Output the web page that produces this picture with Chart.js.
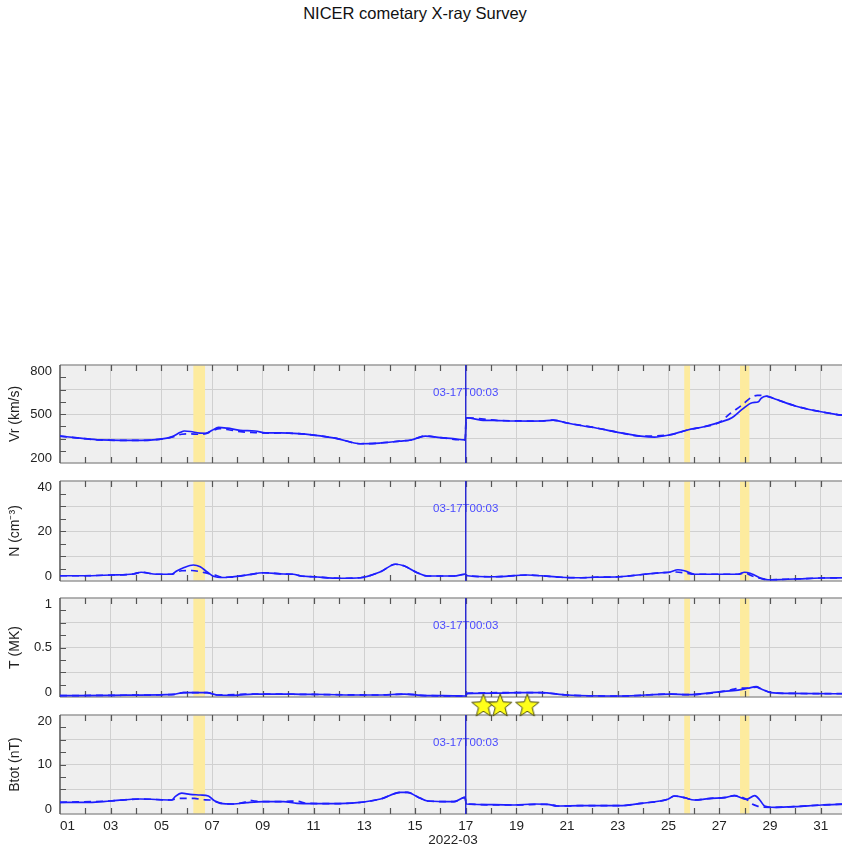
<!DOCTYPE html>
<html lang="en">
<head>
<meta charset="utf-8">
<title>NICER cometary X-ray Survey</title>
<script src="https://cdn.jsdelivr.net/npm/chart.js@4.4.1/dist/chart.umd.min.js"></script>
<style>
    html, body { margin: 0; padding: 0; background: #fff; overflow: hidden; }
    #pagina { position: relative; width: 842px; height: 852px; overflow: hidden;
              font-family: 'Liberation Sans', Arial, Helvetica, sans-serif; }
    #titulo { position: absolute; left: 0; top: 4px; width: 830px; text-align: center;
              font-size: 16.5px; color: #111; }
    canvas { position: absolute; left: 0; }
</style>
</head>
<body>
<div id="pagina">
    <div id="titulo">NICER cometary X-ray Survey</div>
    <canvas id="vrChart" width="848" height="116" style="top:353px"></canvas>
    <canvas id="nChart" width="848" height="118" style="top:469px"></canvas>
    <canvas id="tChart" width="848" height="117" style="top:586px"></canvas>
    <canvas id="bChart" width="848" height="162" style="top:690px"></canvas>
</div>
<script>
// ---- Eixo do tempo (dias de março de 2022) ----
const xTicks = [1, 3, 5, 7, 9, 11, 13, 15, 17, 19, 21, 23, 25, 27, 29, 31, 32];
const xRotulos = ['01', '03', '05', '07', '09', '11', '13', '15', '17', '19', '21', '23', '25', '27', '29', '31', ''];
const xMarcas = [2, 3, 4, 5, 6, 7, 8, 9, 10, 11, 12, 13, 14, 15, 16, 17, 18, 19, 20, 21, 22, 23, 24, 25, 26, 27, 28, 29, 30, 31];

// faixas amarelas (observações)
const faixaInicio = [6.26, 25.62, 27.82];
const faixaFim = [6.72, 25.85, 28.19];

// evento marcado
const diaEvento = 17 + 3 / 1440;
const rotuloEvento = '03-17T00:03';

// estrelas
const estrelaDias = [17.70, 18.36, 19.43];
const estrelaY = [21.8, 21.8, 21.8];

// ---- Vr (km/s) ----
const vrTicks = [200, 350, 500, 650, 800];
const vrRotulos = ['200', '', '500', '', '800'];
const vrMarcas = [275, 350, 425, 500, 575, 650, 725];
const vrDias = [1.0, 1.8, 2.6, 3.4, 4.2, 4.9, 5.4, 5.75, 5.9, 6.15, 6.5, 6.75, 7.0, 7.25, 7.6, 8.1, 8.7, 9.1, 9.7, 10.4, 11.0, 11.9, 12.85, 13.6, 14.4, 14.85, 15.4, 16.0, 16.5, 16.98, 17.02, 17.6, 18.3, 18.9, 19.6, 20.0, 20.45, 21.0, 21.6, 22.1, 23.0, 23.9, 24.45, 25.0, 25.75, 26.4, 27.1, 27.5, 27.9, 28.3, 28.55, 28.65, 28.85, 29.2, 30.0, 30.8, 31.6, 32.0];
const vrSolido = [365, 352, 341, 338, 338, 345, 360, 388, 396, 393, 383, 382, 400, 418, 413, 400, 396, 384, 384, 380, 371, 351, 318, 322, 334, 341, 365, 355, 349, 341, 477, 463, 460, 457, 456, 457, 463, 445, 428, 416, 388, 365, 359, 371, 402, 422, 453, 477, 528, 569, 575, 596, 610, 592, 549, 520, 498, 490];
const vrTracoDias = [1.0, 2.6, 4.2, 4.9, 5.4, 5.8, 6.1, 6.5, 6.75, 7.0, 7.3, 7.7, 8.2, 8.7, 9.2, 9.7, 10.4, 11.0, 11.9, 12.85, 13.6, 14.4, 14.85, 15.4, 16.0, 16.98, 17.02, 18.3, 20.0, 20.45, 21.0, 22.1, 23.0, 23.9, 25.0, 25.75, 26.4, 27.0, 27.45, 27.9, 28.25, 28.5, 28.8, 29.2, 30.0, 31.6, 32.0];
const vrTraco = [365, 341, 338, 345, 358, 376, 378, 376, 380, 396, 410, 402, 390, 386, 383, 384, 380, 371, 351, 318, 322, 334, 341, 365, 355, 341, 477, 460, 457, 463, 445, 416, 388, 365, 371, 402, 422, 448, 505, 555, 600, 614, 612, 592, 549, 498, 490];

// ---- N (cm^-3) ----
const nTicks = [0, 10, 20, 30, 40];
const nRotulos = ['0', '', '20', '', '40'];
const nMarcas = [5, 10, 15, 20, 25, 30, 35];
const nDias = [1.0, 1.9, 3.0, 3.9, 4.2, 4.8, 5.4, 5.6, 5.87, 6.26, 6.53, 6.79, 7.05, 7.45, 7.6, 8.37, 9.03, 9.82, 10.2, 10.5, 11.0, 12.06, 12.85, 13.64, 14.23, 14.56, 15.09, 15.49, 16.54, 16.97, 17.07, 18.12, 19.44, 19.97, 20.76, 21.55, 22.07, 23.06, 24.05, 24.71, 25.04, 25.37, 25.63, 26.02, 26.68, 27.34, 27.74, 28.0, 28.26, 28.66, 28.92, 29.97, 31.0, 32.0];
const nSolido = [2.1, 2.1, 2.4, 2.8, 3.5, 2.7, 2.7, 4.0, 5.3, 6.4, 5.7, 3.7, 1.9, 1.4, 1.5, 2.4, 3.3, 2.8, 2.7, 2.0, 1.7, 1.1, 1.3, 3.7, 6.7, 6.1, 3.3, 2.0, 2.0, 2.7, 2.1, 1.7, 2.4, 2.1, 1.5, 1.3, 1.5, 1.7, 2.7, 3.3, 3.5, 4.5, 4.1, 2.7, 2.7, 2.7, 2.7, 3.5, 2.9, 1.1, 0.5, 0.8, 1.2, 1.3];
const nTracoDias = [1.0, 1.9, 3.0, 3.9, 4.2, 4.8, 5.4, 5.6, 5.8, 6.2, 6.5, 6.8, 7.1, 7.45, 7.6, 8.37, 9.03, 9.82, 10.2, 10.5, 11.0, 12.06, 12.85, 13.64, 14.23, 14.56, 15.09, 15.49, 16.54, 16.97, 17.07, 18.12, 19.44, 19.97, 20.76, 21.55, 22.07, 23.06, 24.05, 24.71, 25.04, 25.3, 25.7, 26.02, 26.68, 27.34, 27.74, 28.0, 28.3, 28.65, 28.92, 29.97, 31.0, 32.0];
const nTraco = [2.1, 2.1, 2.4, 2.8, 3.5, 2.7, 2.7, 3.6, 4.1, 4.2, 3.8, 3.1, 2.4, 1.5, 1.5, 2.4, 3.3, 2.8, 2.7, 2.0, 1.7, 1.1, 1.3, 3.7, 6.7, 6.1, 3.3, 2.0, 2.0, 2.7, 2.1, 1.7, 2.4, 2.1, 1.5, 1.3, 1.5, 1.7, 2.7, 3.3, 3.5, 3.6, 3.1, 2.7, 2.7, 2.7, 2.7, 3.2, 2.0, 1.0, 0.5, 0.8, 1.2, 1.3];

// ---- T (MK) ----
const tTicks = [0, 0.25, 0.5, 0.75, 1];
const tRotulos = ['0', '', '0.5', '', '1'];
const tMarcas = [0.125, 0.25, 0.375, 0.5, 0.625, 0.75, 0.875];
const tDias = [1.0, 3.0, 5.2, 5.5, 5.87, 6.8, 7.2, 7.85, 8.64, 9.82, 10.5, 11.5, 12.5, 13.6, 14.6, 15.23, 16.5, 16.98, 17.07, 18.2, 19.17, 19.96, 21.0, 23.1, 25.1, 25.76, 27.08, 27.74, 28.13, 28.46, 28.66, 29.05, 29.71, 31.6, 32.0];
const tSolido = [0.013, 0.017, 0.023, 0.027, 0.044, 0.044, 0.02, 0.017, 0.03, 0.03, 0.027, 0.025, 0.02, 0.02, 0.03, 0.017, 0.012, 0.01, 0.037, 0.04, 0.044, 0.044, 0.02, 0.01, 0.03, 0.023, 0.054, 0.07, 0.088, 0.104, 0.08, 0.044, 0.037, 0.033, 0.033];
const tTracoDias = [1.0, 3.0, 5.5, 5.87, 6.8, 7.2, 8.64, 10.5, 13.6, 14.6, 15.23, 16.98, 17.07, 19.17, 19.96, 21.0, 23.1, 25.1, 25.76, 27.08, 27.6, 27.8, 28.1, 28.46, 28.66, 29.05, 29.71, 32.0];
const tTraco = [0.013, 0.017, 0.027, 0.044, 0.044, 0.02, 0.03, 0.027, 0.02, 0.03, 0.017, 0.01, 0.037, 0.044, 0.044, 0.02, 0.01, 0.03, 0.023, 0.054, 0.08, 0.09, 0.09, 0.1, 0.08, 0.044, 0.037, 0.033];

// ---- Btot (nT) ----
const bTicks = [0, 5, 10, 15, 20];
const bRotulos = ['0', '', '10', '', '20'];
const bMarcas = [2.5, 5, 7.5, 10, 12.5, 15, 17.5];
const bDias = [1.0, 2.18, 2.97, 4.16, 5.41, 5.54, 5.8, 6.13, 6.53, 6.85, 7.05, 7.32, 7.84, 8.37, 9.03, 9.82, 10.35, 11.66, 12.72, 13.64, 14.43, 14.7, 15.09, 15.49, 16.54, 16.97, 17.03, 18.12, 18.91, 19.7, 20.23, 20.62, 21.55, 22.07, 23.06, 23.92, 24.97, 25.23, 25.63, 26.02, 26.68, 27.2, 27.6, 28.07, 28.4, 28.6, 28.79, 29.19, 29.98, 31.03, 32.0];
const bSolido = [2.36, 2.36, 2.63, 3.03, 2.83, 3.5, 4.2, 3.97, 3.84, 3.64, 2.83, 2.16, 2.02, 2.29, 2.49, 2.49, 2.16, 2.09, 2.29, 3.03, 4.38, 4.38, 3.5, 2.63, 2.49, 3.37, 2.02, 1.88, 1.82, 2.02, 1.96, 1.62, 1.68, 1.68, 1.68, 2.16, 2.97, 3.64, 3.3, 2.83, 3.17, 3.3, 3.7, 2.97, 3.7, 2.83, 1.62, 1.35, 1.48, 1.82, 2.0];
const bTracoDias = [1.0, 2.97, 4.16, 5.41, 5.6, 5.9, 6.3, 6.6, 6.9, 7.15, 7.4, 7.84, 8.3, 8.5, 8.7, 9.03, 9.82, 10.1, 10.4, 10.7, 11.66, 12.72, 13.64, 14.43, 14.7, 15.09, 15.49, 16.54, 16.97, 17.03, 18.91, 20.23, 20.62, 21.55, 23.06, 23.92, 24.97, 25.23, 25.63, 26.02, 26.68, 27.2, 27.6, 28.07, 28.3, 28.5, 28.7, 29.19, 29.98, 31.03, 32.0];
const bTraco = [2.36, 2.63, 3.03, 2.83, 3.1, 3.17, 3.17, 2.9, 2.83, 2.5, 2.16, 2.02, 2.4, 2.75, 2.6, 2.49, 2.49, 2.6, 2.55, 2.16, 2.09, 2.29, 3.03, 4.38, 4.38, 3.5, 2.63, 2.49, 3.37, 2.02, 1.82, 1.96, 1.62, 1.68, 1.68, 2.16, 2.97, 3.64, 3.3, 2.83, 3.17, 3.3, 3.7, 2.97, 2.0, 1.6, 1.38, 1.35, 1.48, 1.82, 2.0];

const FONTE = "'Liberation Sans', Arial, Helvetica, sans-serif";
const AZUL = '#1e1eff';

Chart.defaults.font.family = FONTE;
Chart.defaults.font.size = 13;
Chart.defaults.color = '#222';

function pontos(dias, valores) {
    return dias.map((d, i) => ({ x: d, y: valores[i] }));
}

// estrela amarela desenhada num canvas auxiliar (pointStyle)
function criarEstrela() {
    const c = document.createElement('canvas');
    c.width = 30;
    c.height = 30;
    const g = c.getContext('2d');
    const R = 12.2, r = 5.2;
    g.beginPath();
    for (let i = 0; i < 10; i++) {
        const ang = -Math.PI / 2 + i * Math.PI / 5;
        const raio = i % 2 === 0 ? R : r;
        const px = 15 + raio * Math.cos(ang);
        const py = 15 + raio * Math.sin(ang);
        if (i === 0) g.moveTo(px, py); else g.lineTo(px, py);
    }
    g.closePath();
    g.fillStyle = '#ffff1a';
    g.fill();
    g.strokeStyle = '#4a4a10';
    g.lineWidth = 1;
    g.stroke();
    return c;
}

// fundo, faixas, moldura, marcas internas, rótulos do eixo y e linha do evento
const painelPlugin = {
    id: 'painel',
    beforeDraw(chart) {
        const { ctx, chartArea: a } = chart;
        ctx.save();
        ctx.fillStyle = '#efefef';
        ctx.fillRect(a.left, a.top, a.right - a.left, a.bottom - a.top);
        ctx.restore();
    },
    beforeDatasetsDraw(chart, args, opts) {
        const { ctx, chartArea: a } = chart;
        const x = chart.scales.x, y = chart.scales.y;
        ctx.save();
        ctx.fillStyle = '#fdeb9e';
        faixaInicio.forEach((d, i) => {
            const x0 = x.getPixelForValue(d);
            const x1 = x.getPixelForValue(faixaFim[i]);
            ctx.fillRect(x0, a.top, x1 - x0, a.bottom - a.top);
        });

        ctx.lineWidth = 1.5;
        ctx.strokeStyle = '#9a9a9a';
        ctx.beginPath();
        ctx.moveTo(a.left, a.top); ctx.lineTo(a.right, a.top);
        ctx.moveTo(a.left, a.bottom); ctx.lineTo(a.right, a.bottom);
        ctx.stroke();
        ctx.strokeStyle = '#555';
        ctx.beginPath();
        ctx.moveTo(a.left, a.top); ctx.lineTo(a.left, a.bottom);
        ctx.stroke();

        ctx.lineWidth = 1.2;
        ctx.strokeStyle = '#555';
        ctx.beginPath();
        xMarcas.forEach(d => {
            const px = Math.round(x.getPixelForValue(d)) + 0.5;
            ctx.moveTo(px, a.top); ctx.lineTo(px, a.top + 6);
            ctx.moveTo(px, a.bottom); ctx.lineTo(px, a.bottom - 6);
        });
        (opts.marcas || []).forEach(v => {
            const py = Math.round(y.getPixelForValue(v)) + 0.5;
            ctx.moveTo(a.left, py); ctx.lineTo(a.left + 6, py);
        });
        ctx.stroke();

        // rótulos do eixo y: os das pontas ficam dentro da altura do painel
        ctx.fillStyle = '#222';
        ctx.font = '13px ' + FONTE;
        ctx.textAlign = 'right';
        ctx.textBaseline = 'middle';
        (opts.ticks || []).forEach((v, i) => {
            const txt = opts.rotulos[i];
            if (!txt) return;
            let py = y.getPixelForValue(v);
            py = Math.min(Math.max(py, a.top + 6), a.bottom - 5);
            ctx.fillText(txt, a.left - 8, py);
        });
        ctx.restore();
    },
    afterDatasetsDraw(chart) {
        const { ctx, chartArea: a } = chart;
        const px = chart.scales.x.getPixelForValue(diaEvento);
        ctx.save();
        ctx.fillStyle = '#4a4aff';
        ctx.font = '11.5px ' + FONTE;
        ctx.textAlign = 'center';
        ctx.textBaseline = 'middle';
        ctx.fillText(rotuloEvento, px, a.top + 28);
        ctx.strokeStyle = '#2a2ad2';
        ctx.lineWidth = 1.5;
        ctx.beginPath();
        ctx.moveTo(px, a.top);
        ctx.lineTo(px, a.bottom);
        ctx.stroke();
        ctx.restore();
    }
};

function serie(dias, valores, tracejada) {
    return {
        data: pontos(dias, valores),
        borderColor: AZUL,
        borderWidth: 1.7,
        borderDash: tracejada ? [7, 5] : [],
        pointRadius: 0,
        fill: false,
        cubicInterpolationMode: 'monotone'
    };
}

function criarPainel(id, cfg) {
    const el = document.getElementById(id);
    if (!el) {
        console.error('Canvas não encontrado:', id);
        return null;
    }
    const datasets = [
        serie(cfg.diasSolido, cfg.solido, false),
        serie(cfg.diasTraco, cfg.traco, true)
    ];
    if (cfg.extras) datasets.unshift(...cfg.extras);

    return new Chart(el, {
        type: 'line',
        data: { datasets },
        plugins: [painelPlugin],
        options: {
            responsive: false,
            animation: false,
            events: [],
            layout: {
                autoPadding: false,
                padding: { top: cfg.padTop, bottom: cfg.padBottom, left: 0, right: 2 }
            },
            plugins: {
                legend: { display: false },
                tooltip: { enabled: false },
                painel: { marcas: cfg.marcas, ticks: cfg.ticks, rotulos: cfg.rotulos }
            },
            scales: {
                x: {
                    type: 'linear',
                    min: 1,
                    max: 32,
                    afterBuildTicks: s => { s.ticks = xTicks.map(v => ({ value: v })); },
                    afterFit: s => {
                        s.height = cfg.eixoX ? 38 : 0;
                        s.paddingLeft = 0;
                        s.paddingRight = 0;
                    },
                    border: { display: false },
                    grid: {
                        drawTicks: false,
                        color: c => (c.index === 0 || c.index === xTicks.length - 1) ? 'rgba(0,0,0,0)' : '#d0d0d0'
                    },
                    ticks: {
                        display: !!cfg.eixoX,
                        autoSkip: false,
                        maxRotation: 0,
                        align: 'inner',
                        padding: 4,
                        font: { size: 13.5 },
                        color: '#222',
                        callback: (v, i) => xRotulos[i]
                    },
                    title: {
                        display: !!cfg.eixoX,
                        text: '2022-03',
                        font: { size: 13.5 },
                        color: '#222',
                        padding: { top: 0, bottom: 4 }
                    }
                },
                y: {
                    type: 'linear',
                    min: cfg.ticks[0],
                    max: cfg.ticks[cfg.ticks.length - 1],
                    afterBuildTicks: s => { s.ticks = cfg.ticks.map(v => ({ value: v })); },
                    afterFit: s => {
                        s.width = 60;
                        s.paddingTop = 0;
                        s.paddingBottom = 0;
                    },
                    border: { display: false },
                    grid: {
                        drawTicks: false,
                        color: c => (c.index === 0 || c.index === cfg.ticks.length - 1) ? 'rgba(0,0,0,0)' : '#d0d0d0'
                    },
                    ticks: { display: false },
                    title: {
                        display: true,
                        text: cfg.titulo,
                        font: { size: 14 },
                        color: '#222',
                        padding: { top: 7, bottom: 0 }
                    }
                }
            }
        }
    });
}

document.addEventListener('DOMContentLoaded', () => {
    try {
        criarPainel('vrChart', {
            titulo: 'Vr (km/s)', ticks: vrTicks, rotulos: vrRotulos, marcas: vrMarcas,
            diasSolido: vrDias, solido: vrSolido, diasTraco: vrTracoDias, traco: vrTraco,
            padTop: 12, padBottom: 6
        });
        criarPainel('nChart', {
            titulo: 'N (cm\u207B\u00B3)', ticks: nTicks, rotulos: nRotulos, marcas: nMarcas,
            diasSolido: nDias, solido: nSolido, diasTraco: nTracoDias, traco: nTraco,
            padTop: 12, padBottom: 6
        });
        criarPainel('tChart', {
            titulo: 'T (MK)', ticks: tTicks, rotulos: tRotulos, marcas: tMarcas,
            diasSolido: tDias, solido: tSolido, diasTraco: tTracoDias, traco: tTraco,
            padTop: 12, padBottom: 6
        });

        const estrela = criarEstrela();
        criarPainel('bChart', {
            titulo: 'Btot (nT)', ticks: bTicks, rotulos: bRotulos, marcas: bMarcas,
            diasSolido: bDias, solido: bSolido, diasTraco: bTracoDias, traco: bTraco,
            padTop: 25, padBottom: 0, eixoX: true,
            extras: [{
                data: pontos(estrelaDias, estrelaY),
                showLine: false,
                pointStyle: estrela,
                pointRadius: 13,
                clip: false
            }]
        });
    } catch (erro) {
        console.error('Erro ao criar os painéis:', erro);
    }
});
</script>
</body>
</html>
